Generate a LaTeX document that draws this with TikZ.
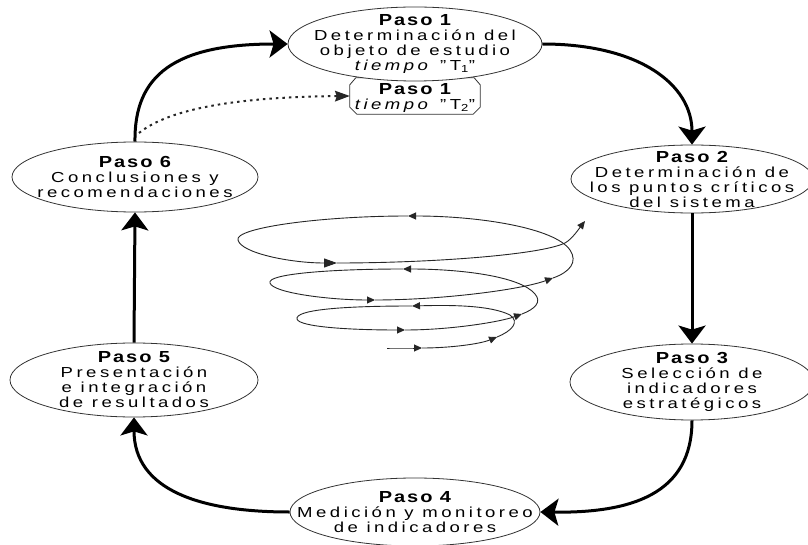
\documentclass[tikz,border=0pt]{standalone}
\usepackage{fontspec}
\setmainfont{Liberation Sans}[LetterSpace=24, FakeStretch=1.28]
\newfontfamily\titlefont{Liberation Sans}[LetterSpace=12, FakeStretch=1.25]
\usetikzlibrary{shapes.geometric,arrows.meta}
\newcommand\ptitle{\titlefont\fontsize{16}{16}\selectfont\bfseries}
\begin{document}
\begin{tikzpicture}[x=1pt,y=-1pt,
  paso/.style={ellipse, draw=black!80, line width=0.8pt, fill=white, inner sep=0pt},
  pasotext/.style={align=center, inner sep=0pt, font=\fontsize{14.5}{15}\selectfont},
  boxline/.style={draw=black!80, line width=0.8pt, line join=round},
  flow/.style={line width=3pt, black, -{Stealth[length=18pt,width=27pt,inset=4pt]}},
  dotflow/.style={line width=2pt, black!85, dash pattern=on 2.5pt off 4pt, -{Stealth[length=15pt,width=11pt,inset=2pt,line width=0pt]}},
  spir/.style={line width=0.9pt, black!85},
  sa/.style={spir, -{Triangle[length=8pt,width=7pt]}},
  sab/.style={spir, -{Triangle[length=13pt,width=9pt]}},
]
\useasboundingbox (0,0) rectangle (808,545);

% T2 box (behind Paso 1)
\node[rectangle, minimum width=130pt, minimum height=36pt, inner sep=0pt] (t2) at (415,96) {};
\draw[boxline] ([xshift=6pt]t2.north west) -- ([xshift=-6pt]t2.north east)
  -- ([yshift=-7pt]t2.north east) -- ([yshift=7pt]t2.south east)
  -- ([xshift=-7pt]t2.south east) -- ([xshift=7pt]t2.south west)
  -- ([yshift=7pt]t2.south west) -- ([yshift=-7pt]t2.north west) -- cycle;
\node[pasotext] (t2t) at (415,98) {{\ptitle Paso 1}\\ \textit{tiempo} "T\textsubscript{2}"};

% ellipses
\node[paso, minimum width=254pt, minimum height=74pt] (p1) at (415,44) {};
\node[paso, minimum width=242pt, minimum height=68pt] (p2) at (692,179) {};
\node[paso, minimum width=244pt, minimum height=76pt] (p3) at (692,382) {};
\node[paso, minimum width=250pt, minimum height=68pt] (p4) at (415,512) {};
\node[paso, minimum width=248pt, minimum height=74pt] (p5) at (134,380) {};
\node[paso, minimum width=246pt, minimum height=70pt] (p6) at (135,177) {};

\node[pasotext] (p1t) at (p1.center) {{\ptitle Paso 1}\\ Determinación del\\ objeto de estudio\\ \textit{tiempo} "T\textsubscript{1}"};
\node[pasotext] (p2t) at (p2.center) {{\ptitle Paso 2}\\ Determinación de\\ los puntos críticos\\ del sistema};
\node[pasotext] (p3t) at (p3.center) {{\ptitle Paso 3}\\ Selección de\\ indicadores\\ estratégicos};
\node[pasotext] (p4t) at (p4.center) {{\ptitle Paso 4}\\ Medición y monitoreo\\ de indicadores};
\node[pasotext] (p5t) at (p5.center) {{\ptitle Paso 5}\\ Presentación\\ e integración\\ de resultados};
\node[pasotext] (p6t) at (p6.center) {{\ptitle Paso 6}\\ Conclusiones y\\ recomendaciones};

% main flow
\draw[flow] (p6.north) .. controls (134,75) and (175,44) .. (p1.west);
\draw[flow] (p1.east) .. controls (640,44) and (692,85) .. (p2.north);
\draw[flow] (p2.south) -- (p3.north);
\draw[flow] (p3.south) .. controls (692,495) and (630,513) .. (p4.east);
\draw[flow] (p4.west) .. controls (200,512) and (134,490) .. (p5.south);
\draw[flow] (p5.north) -- (p6.south);

% dotted return to T2
\coordinate (ds) at (139,133);
\draw[dotflow] (ds) .. controls (170,108) and (240,97) .. (t2.west);

% spiral
\draw[sa] (387,348) .. controls (400,348) and (410,348) .. (422,348);
\draw[sa] (422,348) .. controls (450,348) and (480,344) .. (497,337);
\draw[sa] (497,337) .. controls (512,331) and (520,322) .. (510,315) .. controls (490,305) and (450,305) .. (412,306);
\draw[spir] (412,306) .. controls (340,306) and (295,310) .. (297,319);
\draw[sa] (297,319) .. controls (299,327) and (350,330) .. (405,330);
\draw[sa] (405,330) .. controls (450,330) and (500,322) .. (522,314);
\draw[sa] (522,314) .. controls (535,309) and (542,302) .. (535,294) .. controls (520,276) and (460,269) .. (403,269);
\draw[spir] (403,269) .. controls (330,269) and (266,274) .. (270,283);
\draw[sa] (270,283) .. controls (273,293) and (330,300) .. (375,300);
\draw[sa] (375,300) .. controls (440,300) and (520,290) .. (553,278);
\draw[sa] (553,278) .. controls (570,272) and (578,262) .. (570,250) .. controls (555,228) and (480,216) .. (408,216);
\draw[spir] (408,216) .. controls (320,216) and (234,228) .. (238,240);
\draw[sab] (238,240) .. controls (241,253) and (290,263) .. (337,263);
\draw[sa] (337,263) .. controls (430,263) and (540,255) .. (565,243) .. controls (572,239) and (578,230) .. (585,221);
\end{tikzpicture}
\end{document}
